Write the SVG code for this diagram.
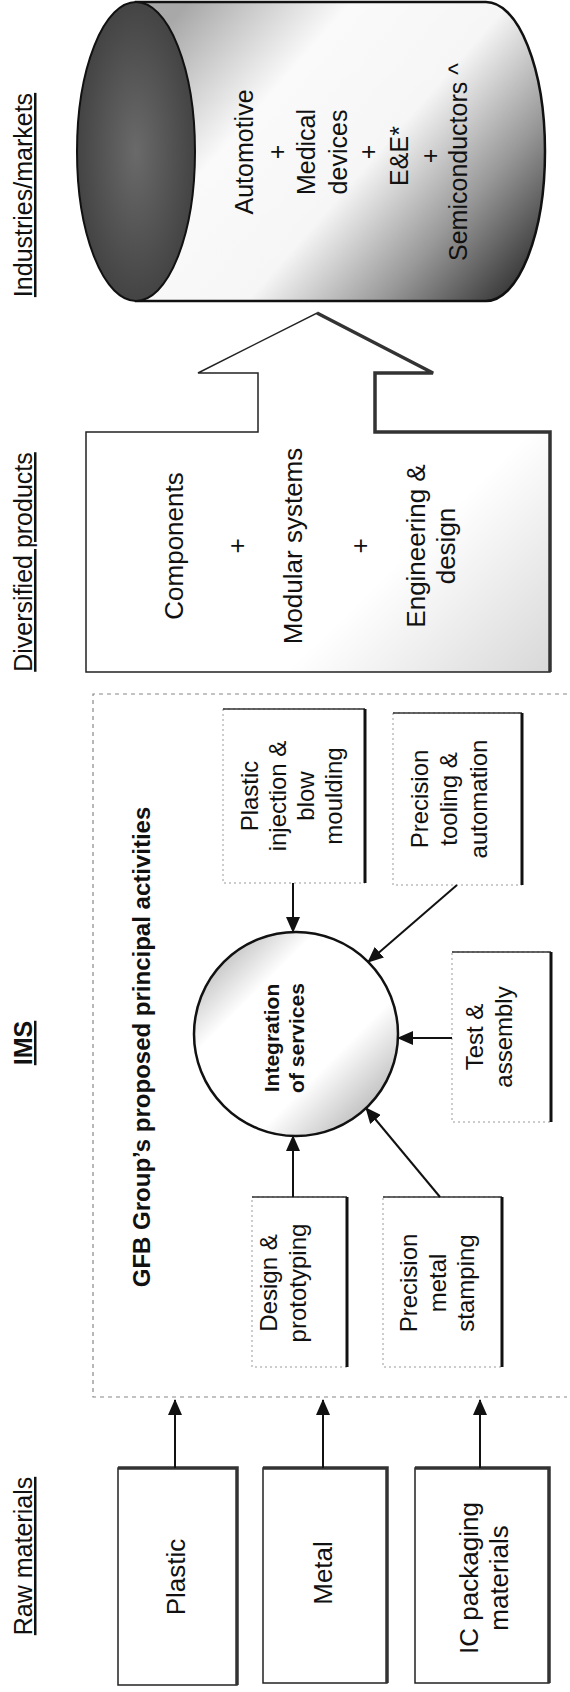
<svg xmlns="http://www.w3.org/2000/svg" width="570" height="1692" viewBox="0 0 570 1692">
<style>
text{font-family:"Liberation Sans",Arial,sans-serif;fill:#111;text-anchor:middle}
.hdr{font-size:25px;text-decoration:underline}
.big{font-size:26px}
.mid{font-size:24px}
.cyl{font-size:25px}
.b{font-weight:bold}
.thin{fill:none;stroke:#222;stroke-width:1.5}
.shadow{fill:none;stroke:#333;stroke-width:3.5}
.faint{fill:#fff;stroke:#999;stroke-width:1;stroke-dasharray:2 3}
.top{fill:none;stroke:#333;stroke-width:1.5}
.right{fill:none;stroke:#111;stroke-width:3}
.conn{stroke:#111;stroke-width:2;fill:none;marker-end:url(#ah)}
</style>
<defs>
<marker id="ah" markerUnits="userSpaceOnUse" markerWidth="16" markerHeight="14" refX="15" refY="7" orient="auto"><path d="M0,0 L16,7 L0,14 Z" fill="#111"/></marker>
<linearGradient id="cylBody" gradientUnits="userSpaceOnUse" x1="190" y1="0" x2="520" y2="290">
<stop offset="0" stop-color="#a8a8a8"/><stop offset="0.28" stop-color="#fafafa"/><stop offset="0.55" stop-color="#f6f6f6"/><stop offset="0.78" stop-color="#999"/><stop offset="1" stop-color="#333"/>
</linearGradient>
<radialGradient id="ellFill" cx="0.5" cy="0.5" r="0.6">
<stop offset="0" stop-color="#6a6a6a"/><stop offset="1" stop-color="#3c3c3c"/>
</radialGradient>
<linearGradient id="circFill" x1="0" y1="0" x2="1" y2="1">
<stop offset="0" stop-color="#999"/><stop offset="0.3" stop-color="#fff"/><stop offset="0.65" stop-color="#fff"/><stop offset="1" stop-color="#9a9a9a"/>
</linearGradient>
<linearGradient id="divFill" gradientUnits="userSpaceOnUse" x1="420" y1="540" x2="550" y2="672">
<stop offset="0" stop-color="#fff"/><stop offset="1" stop-color="#d8d8d8"/>
</linearGradient>
</defs>

<g id="headers">
<text class="hdr" transform="translate(0,195) rotate(-90)" x="0" y="32">Industries/markets</text>
<text class="hdr" transform="translate(0,562) rotate(-90)" x="0" y="32">Diversified products</text>
<text class="hdr b" transform="translate(0,1043) rotate(-90)" x="0" y="32">IMS</text>
<text class="hdr" transform="translate(0,1556) rotate(-90)" x="0" y="32">Raw materials</text>
</g>

<g id="industries">
<path d="M136,2 H486 A59,149.5 0 0 1 486,301 H136 Z" fill="url(#cylBody)" stroke="#111" stroke-width="2.5"/>
<ellipse cx="136" cy="151.5" rx="59" ry="149.5" fill="url(#ellFill)" stroke="#111" stroke-width="2"/>
<text class="cyl" transform="translate(0,152) rotate(-90)"><tspan x="0" y="253">Automotive</tspan><tspan x="0" y="286">+</tspan><tspan x="0" y="315">Medical</tspan><tspan x="0" y="347">devices</tspan><tspan x="0" y="377">+</tspan></text>
<text class="cyl" transform="translate(0,156) rotate(-90)"><tspan x="0" y="408">E&amp;E*</tspan><tspan x="0" y="439">+</tspan></text>
<text class="cyl" transform="translate(0,162) rotate(-90)" x="0" y="467">Semiconductors ^</text>
</g>

<g id="diversified">
<path d="M86,432 H258 V373 H198 L317,313 L433,373 H375 V432 H550 V672 H86 Z" fill="url(#divFill)" stroke="#222" stroke-width="1.5"/>
<path class="shadow" d="M317,313 L433,373 H375 V432 H550 V672"/>
<text class="big" transform="translate(0,546) rotate(-90)"><tspan x="0" y="183">Components</tspan><tspan x="0" y="246">+</tspan><tspan x="0" y="302">Modular systems</tspan><tspan x="0" y="369">+</tspan><tspan x="0" y="425">Engineering &amp;</tspan><tspan x="0" y="455">design</tspan></text>
</g>

<g id="ims-frame">
<path d="M567,694 H93 V1397 H567" fill="none" stroke="#888" stroke-width="1.2" stroke-dasharray="4 4"/>
<text class="b" style="font-size:24px" transform="translate(0,1047) rotate(-90)" x="0" y="150">GFB Group’s proposed principal activities</text>
</g>

<g id="plastic-injection">
<rect class="faint" x="223" y="709" width="142" height="174"/>
<path class="top" d="M223,709 H365"/><path class="right" d="M365,709 V883"/>
<text class="mid" transform="translate(0,796) rotate(-90)"><tspan x="0" y="258">Plastic</tspan><tspan x="0" y="286">injection &amp;</tspan><tspan x="0" y="314">blow</tspan><tspan x="0" y="342">moulding</tspan></text>
</g>

<g id="tooling">
<rect class="faint" x="393" y="713" width="129" height="172"/>
<path class="top" d="M393,713 H522"/><path class="right" d="M522,713 V885"/>
<text class="mid" transform="translate(0,799) rotate(-90)"><tspan x="0" y="428">Precision</tspan><tspan x="0" y="457">tooling &amp;</tspan><tspan x="0" y="487">automation</tspan></text>
</g>

<g id="test-assembly">
<rect class="faint" x="452" y="952" width="99" height="170"/>
<path class="top" d="M452,952 H551"/><path class="right" d="M551,952 V1122"/>
<text class="mid" transform="translate(0,1037) rotate(-90)"><tspan x="0" y="483">Test &amp;</tspan><tspan x="0" y="512">assembly</tspan></text>
</g>

<g id="design">
<rect class="faint" x="252" y="1197" width="95" height="170"/>
<path class="top" d="M252,1197 H347"/><path class="right" d="M347,1197 V1367"/>
<text class="mid" transform="translate(0,1283) rotate(-90)"><tspan x="0" y="277">Design &amp;</tspan><tspan x="0" y="306">prototyping</tspan></text>
</g>

<g id="stamping">
<rect class="faint" x="383" y="1197" width="119" height="170"/>
<path class="top" d="M383,1197 H502"/><path class="right" d="M502,1197 V1367"/>
<text class="mid" transform="translate(0,1283) rotate(-90)"><tspan x="0" y="417">Precision</tspan><tspan x="0" y="446">metal</tspan><tspan x="0" y="474">stamping</tspan></text>
</g>

<g id="integration">
<circle cx="296" cy="1034" r="102" fill="url(#circFill)" stroke="#111" stroke-width="2.5"/>
<text class="b" style="font-size:21px" transform="translate(0,1038) rotate(-90)"><tspan x="0" y="279">Integration</tspan><tspan x="0" y="304">of services</tspan></text>
</g>

<g id="raw-plastic">
<rect class="thin" x="118" y="1468" width="119" height="217" fill="#fff"/>
<path class="shadow" d="M118,1468 H237 V1685"/>
<text class="big" transform="translate(0,1577) rotate(-90)" x="0" y="185">Plastic</text>
</g>
<g id="raw-metal">
<rect class="thin" x="263" y="1468" width="124" height="215" fill="#fff"/>
<path class="shadow" d="M263,1468 H387 V1683"/>
<text class="big" transform="translate(0,1573) rotate(-90)" x="0" y="332">Metal</text>
</g>
<g id="raw-ic">
<rect class="thin" x="415" y="1468" width="134" height="215" fill="#fff"/>
<path class="shadow" d="M415,1468 H549 V1683"/>
<text class="big" transform="translate(0,1578) rotate(-90)"><tspan x="0" y="478">IC packaging</tspan><tspan x="0" y="508">materials</tspan></text>
</g>

<g id="connectors">
<path class="conn" d="M175,1468 V1400"/>
<path class="conn" d="M323,1468 V1400"/>
<path class="conn" d="M480,1468 V1400"/>
<path class="conn" d="M293,883 V932"/>
<path class="conn" d="M457,885 L368,962"/>
<path class="conn" d="M452,1038 H398"/>
<path class="conn" d="M440,1197 L366,1108"/>
<path class="conn" d="M293,1197 V1136"/>
</g>
</svg>
